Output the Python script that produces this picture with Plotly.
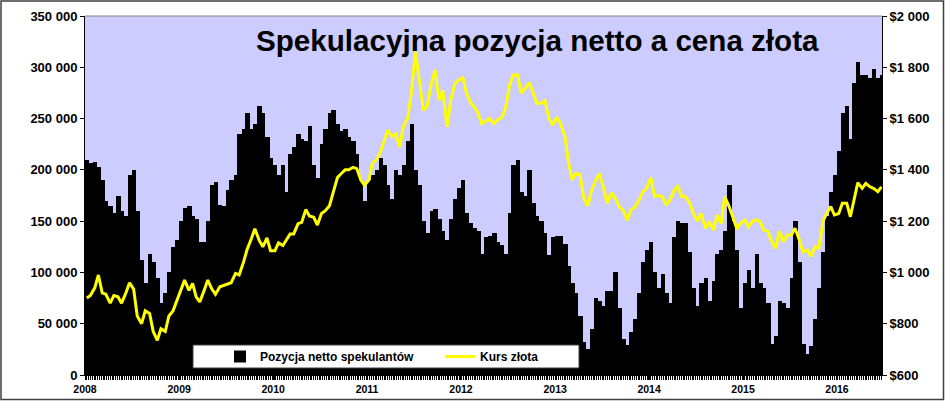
import pandas as pd
import plotly.graph_objects as go

# semi-monthly periods, Jan 2008 - Jun 2016
dates = pd.date_range("2008-01-01", "2016-06-30", freq="SMS")

# net speculative position (contracts), two values per month
net_2008 = [210000, 207000, 208000, 203000, 190000, 170000, 165000, 158000, 175000, 160000, 155000, 195000,
            200000, 160000, 112000, 90000, 118000, 110000, 95000, 70000, 80000, 100000, 125000, 132000]
net_2009 = [150000, 163000, 165000, 155000, 152000, 130000, 130000, 150000, 185000, 188000, 166000, 165000,
            180000, 190000, 195000, 235000, 240000, 255000, 240000, 245000, 262000, 255000, 232000, 212000]
net_2010 = [205000, 195000, 205000, 178000, 215000, 222000, 235000, 230000, 228000, 243000, 205000, 192000,
            225000, 240000, 255000, 258000, 245000, 238000, 240000, 232000, 228000, 215000, 190000, 170000]
net_2011 = [190000, 195000, 200000, 212000, 205000, 185000, 172000, 200000, 195000, 205000, 228000, 245000,
            200000, 185000, 150000, 138000, 160000, 162000, 152000, 140000, 132000, 152000, 172000, 182000]
net_2012 = [190000, 158000, 148000, 143000, 140000, 118000, 135000, 136000, 138000, 130000, 127000, 118000,
            158000, 205000, 210000, 178000, 175000, 200000, 168000, 155000, 150000, 138000, 117000, 135000]
net_2013 = [136000, 136000, 128000, 106000, 90000, 80000, 58000, 32000, 25000, 45000, 75000, 72000,
            67000, 82000, 82000, 100000, 65000, 35000, 29000, 42000, 55000, 80000, 110000, 122000]
net_2014 = [130000, 100000, 85000, 98000, 80000, 70000, 135000, 150000, 148000, 148000, 120000, 85000,
            67000, 90000, 95000, 72000, 92000, 118000, 122000, 140000, 185000, 150000, 122000, 65000]
net_2015 = [90000, 102000, 85000, 118000, 90000, 85000, 70000, 30000, 38000, 72000, 70000, 65000,
            95000, 150000, 110000, 30000, 20000, 28000, 55000, 85000, 120000, 155000, 178000, 195000]
net_2016 = [218000, 255000, 262000, 230000, 285000, 305000, 292000, 292000, 290000, 298000, 290000, 292000]

# gold price (USD/oz), two values per month
gold_2008 = [900, 910, 940, 990, 920, 915, 880, 910, 905, 880, 920, 960,
             935, 830, 800, 850, 840, 770, 735, 780, 770, 830, 850, 890]
gold_2009 = [930, 970, 930, 957, 905, 885, 930, 970, 935, 915, 944, 950,
             957, 960, 996, 990, 1040, 1090, 1130, 1170, 1125, 1100, 1135, 1085]
gold_2010 = [1085, 1115, 1105, 1130, 1150, 1150, 1190, 1195, 1245, 1220, 1215, 1185,
             1230, 1240, 1260, 1310, 1370, 1385, 1400, 1400, 1410, 1405, 1360, 1340]
gold_2011 = [1360, 1427, 1440, 1470, 1515, 1555, 1530, 1540, 1490, 1570, 1600, 1700,
             1860, 1760, 1633, 1646, 1737, 1790, 1672, 1710, 1568, 1672, 1737, 1750]
gold_2012 = [1760, 1700, 1660, 1645, 1620, 1580, 1590, 1600, 1580, 1595, 1605, 1640,
             1730, 1770, 1770, 1700, 1720, 1740, 1700, 1660, 1660, 1670, 1600, 1575]
gold_2013 = [1605, 1580, 1530, 1430, 1360, 1386, 1380, 1290, 1260, 1320, 1360, 1385,
             1330, 1270, 1310, 1290, 1255, 1243, 1204, 1243, 1256, 1280, 1315, 1328]
gold_2014 = [1370, 1297, 1300, 1295, 1265, 1280, 1320, 1335, 1296, 1295, 1270, 1230,
             1200, 1230, 1172, 1198, 1165, 1224, 1191, 1296, 1257, 1217, 1170, 1191]
gold_2015 = [1204, 1178, 1200, 1205, 1198, 1165, 1160, 1120, 1094, 1160, 1120, 1146,
             1146, 1172, 1127, 1080, 1088, 1062, 1100, 1094, 1200, 1230, 1257, 1224]
gold_2016 = [1230, 1270, 1270, 1217, 1290, 1350, 1328, 1347, 1334, 1328, 1315, 1334]

net = net_2008 + net_2009 + net_2010 + net_2011 + net_2012 + net_2013 + net_2014 + net_2015 + net_2016
gold = gold_2008 + gold_2009 + gold_2010 + gold_2011 + gold_2012 + gold_2013 + gold_2014 + gold_2015 + gold_2016

FONT = "Arial, 'Liberation Sans', sans-serif"
DAY = 86400000

# plot area in pixels: x 85..882, y 16..375
L, R, T, B = 85, 882, 16, 375
def px(x):
    return (x - L) / (R - L)
def py(y):
    return (B - y) / (B - T)

bars = go.Bar(
    x=dates, y=net, width=17 * DAY, offset=0,
    marker=dict(color="black", line=dict(width=0)),
    name="Pozycja netto spekulantów",
)
line = go.Scatter(
    x=dates + pd.Timedelta(days=7), y=gold, yaxis="y2", mode="lines",
    line=dict(color="#FFFF00", width=3),
    name="Kurs złota",
)

fig = go.Figure([bars, line])

tickfont = dict(family=FONT, size=13, color="black", weight="bold")
fig.update_layout(
    width=945, height=401,
    margin=dict(l=L, r=945 - R, t=T, b=401 - B, pad=0),
    paper_bgcolor="white",
    plot_bgcolor="#CCCCFF",
    separators=", ",
    bargap=0,
    showlegend=True,
    legend=dict(
        orientation="h", x=px(220), xanchor="left", y=py(356.5), yanchor="middle",
        bgcolor="rgba(0,0,0,0)", borderwidth=0, entrywidth=175,
        font=dict(family=FONT, size=12, color="black", weight="bold"),
    ),
    xaxis=dict(
        type="date", range=["2008-01-01", "2016-06-24"],
        tick0="2008-01-01", dtick="M12", tickformat="%Y",
        ticks="outside", ticklen=4, tickcolor="black",
        minor=dict(ticks="outside", ticklen=4, dtick=7 * DAY, tick0="2008-01-01", tickcolor="black"),
        showline=True, linecolor="black", linewidth=1,
        showgrid=False, zeroline=False, automargin=False,
        tickfont=dict(family=FONT, size=10.5, color="black", weight="bold"),
    ),
    yaxis=dict(
        range=[0, 350000], dtick=50000, tickformat=",d",
        ticks="outside", ticklen=4, tickcolor="black",
        showline=True, linecolor="black", linewidth=1,
        showgrid=False, zeroline=False, automargin=False,
        tickfont=tickfont,
    ),
    yaxis2=dict(
        overlaying="y", side="right",
        range=[600, 2000], dtick=200, tickprefix="$", tickformat=",d",
        ticks="outside", ticklen=4, tickcolor="black",
        showline=True, linecolor="black", linewidth=1,
        showgrid=False, zeroline=False, automargin=False,
        tickfont=tickfont,
    ),
    shapes=[
        # legend box
        dict(type="rect", xref="paper", yref="paper",
             x0=px(193), x1=px(579), y0=py(368), y1=py(345),
             fillcolor="white", line=dict(color="#404040", width=1), layer="above"),
        # top edge of plot area
        dict(type="line", xref="paper", yref="paper", x0=0, x1=1, y0=1, y1=1,
             line=dict(color="#808080", width=1)),
        # outer frame
        dict(type="rect", xref="paper", yref="paper",
             x0=px(1), x1=px(943.5), y0=py(399.5), y1=py(1),
             line=dict(color="#404040", width=1.5)),
    ],
    annotations=[
        dict(text="Spekulacyjna pozycja netto a cena złota", xref="paper", yref="paper",
             x=px(537.5), y=py(40), xanchor="center", yanchor="middle", showarrow=False,
             font=dict(family=FONT, size=29.6, color="black", weight="bold")),
    ],
)

# page body has an 8px default margin; drop it so the figure sits at the window corner
fig.write_html("out.html", config={"displayModeBar": False},
               post_script="document.body.style.margin='0';")
